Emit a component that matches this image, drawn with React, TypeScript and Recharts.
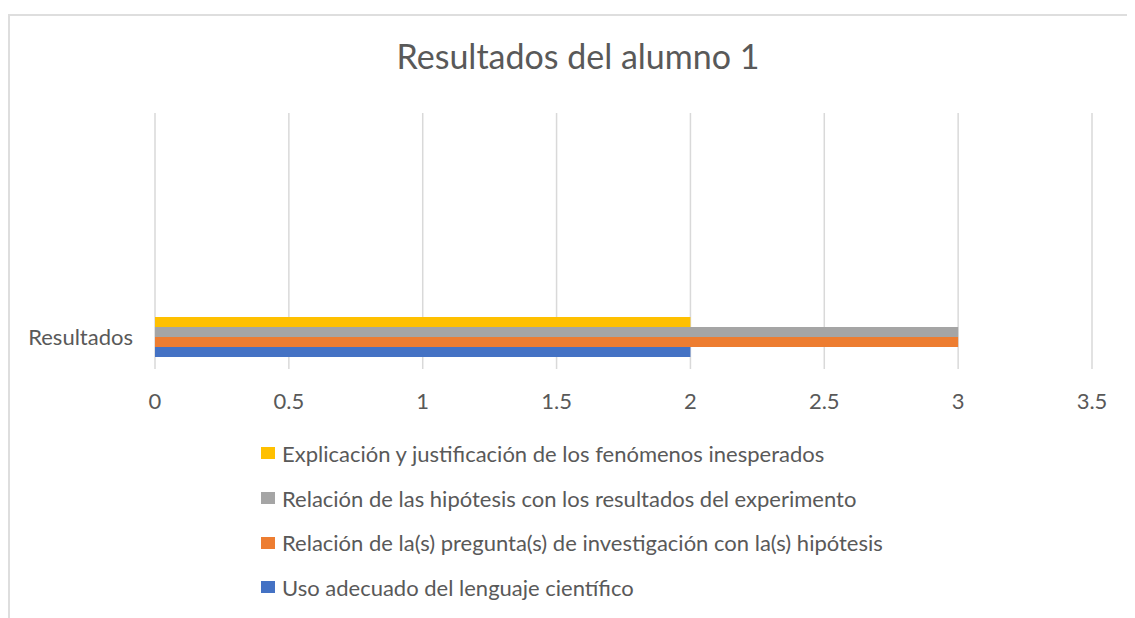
import { Bar, BarChart, CartesianGrid, Legend, XAxis, YAxis } from "recharts";

const categories = ["Resultados"];
const explicacion = [2];
const hipotesisResultados = [3];
const preguntaHipotesis = [3];
const lenguaje = [2];
const xTicks = [0, 0.5, 1, 1.5, 2, 2.5, 3, 3.5];

// Excel draws the first series at the bottom, Recharts at the top, so the order is reversed here
const series = [
  { key: "explicacion", name: "Explicación y justificación de los fenómenos inesperados", color: "#FFC000" },
  { key: "hipotesisResultados", name: "Relación de las hipótesis con los resultados del experimento", color: "#A5A5A5" },
  { key: "preguntaHipotesis", name: "Relación de la(s) pregunta(s) de investigación con la(s) hipótesis", color: "#ED7D31" },
  { key: "lenguaje", name: "Uso adecuado del lenguaje científico", color: "#4472C4" },
];

const data = categories.map((c, i) => ({
  category: c,
  explicacion: explicacion[i],
  hipotesisResultados: hipotesisResultados[i],
  preguntaHipotesis: preguntaHipotesis[i],
  lenguaje: lenguaje[i],
}));

const FONT = "Lato, 'Open Sans', sans-serif";
const TEXT = "#595959";

// legend sorts its items by name, put them back in series order
const order = (v: string) => series.findIndex((s) => s.name === v);

function LegendList({ payload }: any) {
  const items = [...(payload || [])].sort((a: any, b: any) => order(a.value) - order(b.value));
  return (
    <ul style={{ listStyle: "none", margin: 0, padding: 0 }}>
      {items.map((p: any) => (
        <li
          key={p.value}
          style={{ display: "flex", alignItems: "center", height: 44.7, fontSize: 22, color: TEXT, fontFamily: FONT }}
        >
          <span style={{ display: "inline-block", width: 14, height: 12, background: p.color, marginRight: 7 }} />
          {p.value}
        </li>
      ))}
    </ul>
  );
}

export default function App() {
  return (
    <div style={{ position: "relative", width: 1127, height: 610, fontFamily: FONT }}>
      <div
        style={{
          position: "absolute",
          left: 0,
          top: 6,
          right: -20,
          bottom: -20,
          borderTop: "2px solid #DEDEDE",
          borderLeft: "2px solid #DEDEDE",
        }}
      />
      <div
        style={{
          position: "absolute",
          top: 27,
          left: 0,
          width: 1140,
          textAlign: "center",
          fontSize: 34,
          color: TEXT,
        }}
      >
        Resultados del alumno 1
      </div>
      <BarChart
        width={1127}
        height={610}
        data={data}
        layout="vertical"
        margin={{ top: 105, right: 43, left: 0, bottom: 219 }}
        barGap={0}
        barSize={10}
      >
        <CartesianGrid horizontal={false} stroke="#D9D9D9" strokeWidth={1.5} />
        <XAxis
          type="number"
          domain={[0, 3.5]}
          ticks={xTicks}
          axisLine={false}
          tickLine={false}
          tickMargin={18}
          height={30}
          tick={{ fontSize: 22, fill: TEXT, fontFamily: FONT }}
        />
        <YAxis
          type="category"
          dataKey="category"
          width={147}
          padding={{ top: 192, bottom: 0 }}
          axisLine={false}
          tickLine={false}
          tickMargin={16}
          tick={{ fontSize: 22, fill: TEXT, fontFamily: FONT }}
        />
        {series.map((s) => (
          <Bar key={s.key} dataKey={s.key} name={s.name} fill={s.color} isAnimationActive={false} />
        ))}
        <Legend
          layout="vertical"
          align="center"
          verticalAlign="middle"
          wrapperStyle={{ left: 253, top: 423, width: "auto" }}
          content={LegendList}
        />
      </BarChart>
    </div>
  );
}
